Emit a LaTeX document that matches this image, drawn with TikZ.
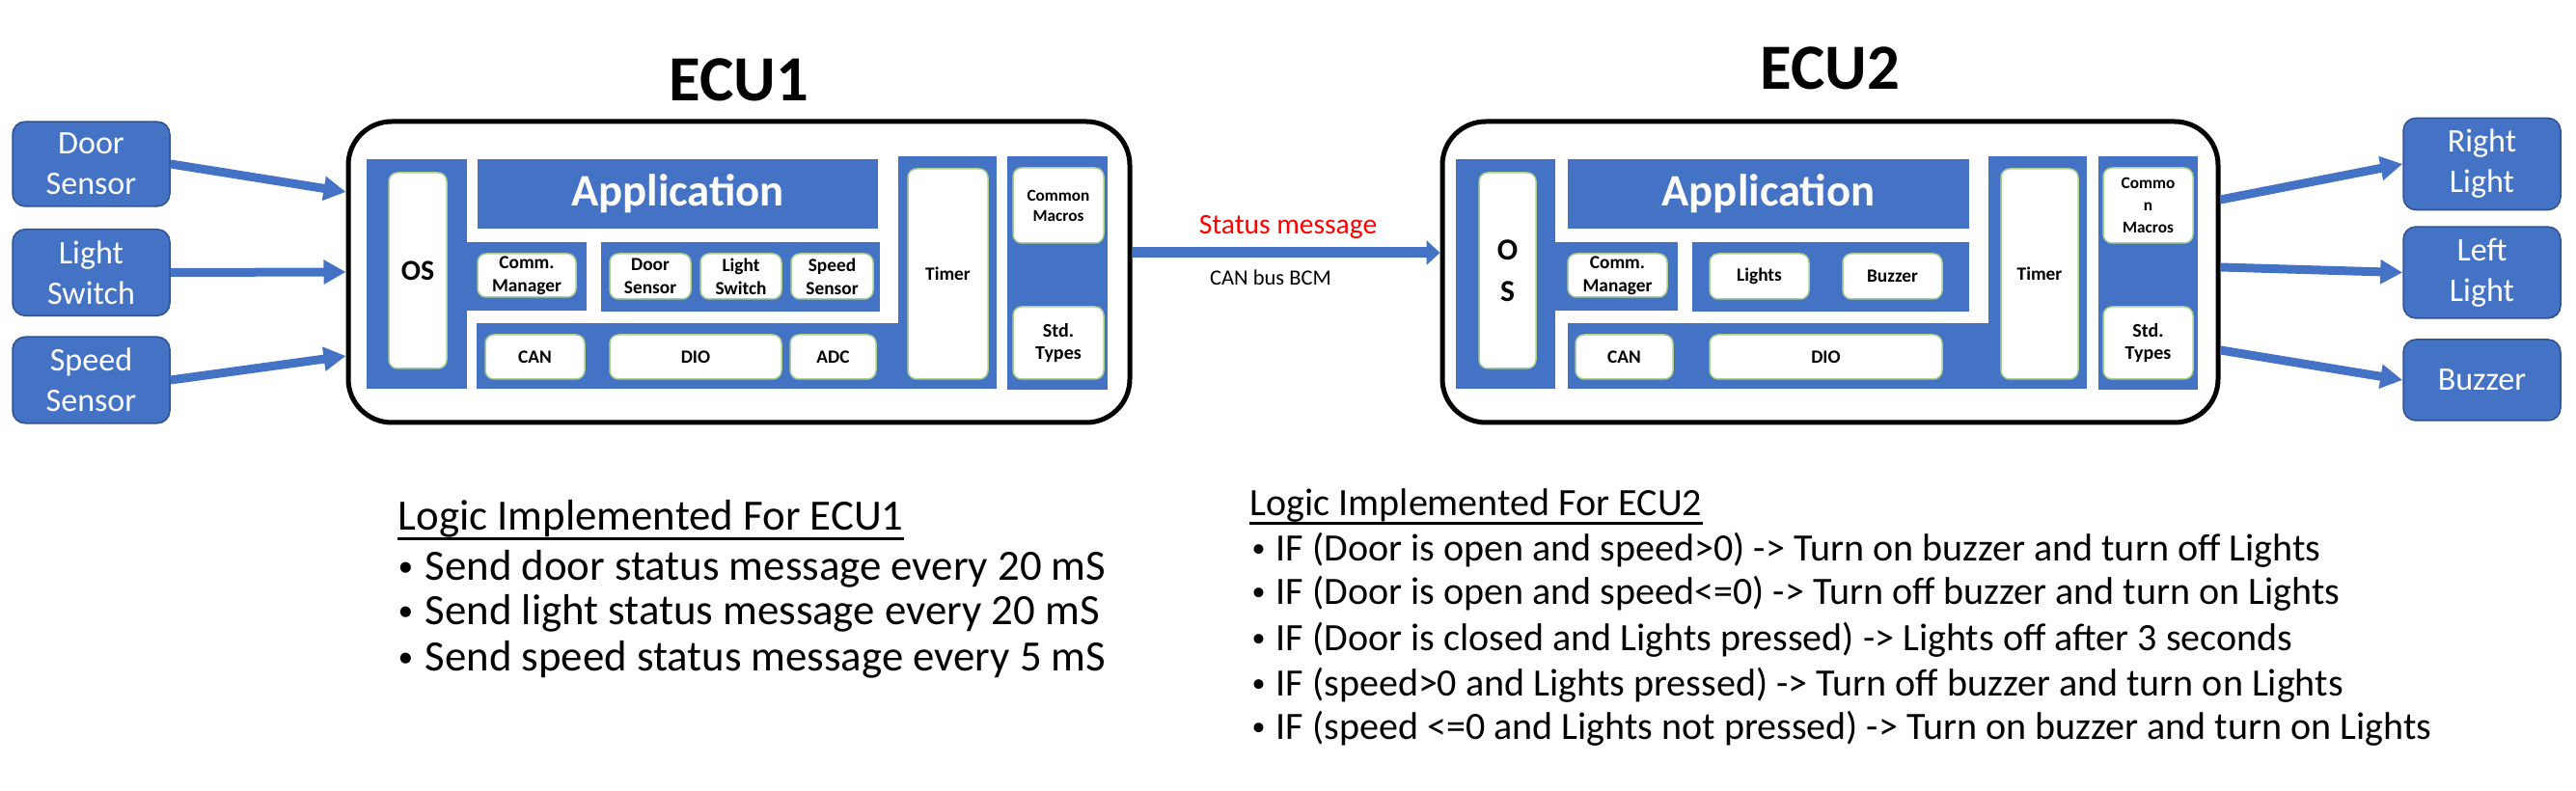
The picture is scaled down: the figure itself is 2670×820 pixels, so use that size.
\documentclass[tikz,border=0pt]{standalone}
\usepackage{fontspec}
\setmainfont{Carlito}
\usepackage{tikz}
\usetikzlibrary{arrows.meta, calc}
\definecolor{ecublue}{RGB}{68,114,196}
\definecolor{ecudark}{RGB}{47,82,143}
\definecolor{ecugreen}{RGB}{169,209,142}
\definecolor{msgred}{RGB}{255,0,0}
\newcommand{\fsz}[2]{\fontsize{#1}{#2}\selectfont}
\newcommand{\dotitem}[1]{\makebox[#1][l]{\raisebox{0.1em}{\scalebox{0.7}{•}}}}

\begin{document}
\begin{tikzpicture}[
    % GLOBAL CFG
    x=0.1mm, y=-0.1mm,
    % Styles
    ecu/.style={% For the ECU frame
        rectangle,
        rounded corners=4.5mm,
        draw,
        fill=white,
        line width=0.5mm,
        minimum height=31.2mm,
        },
    io/.style={% For sensors and actuators
        rectangle,
        rounded corners=1.3mm,
        draw=ecudark,
        fill=ecublue,
        line width=0.15mm,
        text=white,
        align=center,
        font=\fsz{9.7}{12},
        minimum width=16.3mm,
        minimum height=8.4mm,
        },
    layer/.style={% blue background of a layer
        fill=ecublue,
        },
    module/.style={% white software modules
        rectangle,
        rounded corners=0.9mm,
        draw=ecugreen,
        fill=white,
        line width=0.15mm,
        align=center,
        inner sep=0pt,
        font=\bfseries\fsz{5.5}{6.8},
        },
    app/.style={% For the application layer
        rectangle,
        fill=ecublue,
        text=white,
        inner sep=0pt,
        minimum height=7.2mm,
        font=\bfseries\fsz{13.3}{16},
        },
    title/.style={%
        font=\bfseries\fsz{19}{23},
        anchor=base,
        },
    logic/.style={% the lines of the logic lists
        anchor=base west,
        inner sep=0pt,
        },
    uline/.style={% underline of a list title
        line width=0.3mm,
        },
    sig/.style={% Arrows between sensors and ECUs
        draw=ecublue,
        line width=0.9mm,
        -{Triangle[length=2.3mm,width=2.4mm]},
        },
    bus/.style={% the CAN bus arrow
        draw=ecublue,
        line width=1.1mm,
        -{Triangle[length=1.4mm,width=2.5mm]},
        },
    ]
    \useasboundingbox (0,0) rectangle (2670,820);

    % Titles
    \node[title] (ttlA) at (766,105) {ECU1};
    \node[title] (ttlB) at (1897,93) {ECU2};

    % Sensors and actuators
    \node[io] (dsens) at (94.5,170) {Door\\Sensor};
    \node[io] (lsens) at (94.5,282.5) {Light\\Switch};
    \node[io] (ssens) at (94.5,394) {Speed\\Sensor};
    \node[io] (rlight) at (2572.5,170) {Right\\Light};
    \node[io] (llight) at (2572.5,282.5) {Left\\Light};
    \node[io] (buzz) at (2572.5,394) {Buzzer};

    % ECU1 frame and layers
    \node[ecu, minimum width=81mm] (ecuA) at (766,282) {};
    \fill[layer] (380,165) rectangle (484,403);
    \fill[layer] (484,251) rectangle (608,322);
    \fill[layer] (623,251) rectangle (912,323);
    \fill[layer] (494,335) rectangle (932,403);
    \fill[layer] (931,162) rectangle (1033,403);
    \fill[layer] (1044,162) rectangle (1148,404);
    \node[app, minimum width=41.5mm] (appA) at (702.5,201) {Application};
    \node[module, minimum width=6mm, minimum height=20.3mm, font=\bfseries\fsz{8.5}{10}] (osA) at (433,280.5) {OS};
    \node[module, minimum width=10.2mm, minimum height=4.5mm] (commA) at (546,285.5) {Comm.\\Manager};
    \node[module, minimum width=8.4mm, minimum height=4.7mm] (doorA) at (674,286.5) {Door\\Sensor};
    \node[module, minimum width=8.4mm, minimum height=4.7mm] (lightA) at (768,286.5) {Light\\Switch};
    \node[module, minimum width=8.5mm, minimum height=4.7mm] (speedA) at (862.5,286.5) {Speed\\Sensor};
    \node[module, minimum width=10.3mm, minimum height=4.6mm] (canA) at (554.5,370) {CAN};
    \node[module, minimum width=17.8mm, minimum height=4.6mm] (dioA) at (721,370) {DIO};
    \node[module, minimum width=8.9mm, minimum height=4.6mm] (adcA) at (863.5,370) {ADC};
    \node[module, minimum width=8.3mm, minimum height=21.8mm] (timerA) at (982.5,284) {Timer};
    \node[module, minimum width=9.4mm, minimum height=7.8mm, font=\bfseries\fsz{4.9}{6}] (macroA) at (1097,213) {Common\\Macros};
    \node[module, minimum width=9.4mm, minimum height=7.5mm, font=\bfseries\fsz{5.7}{6.5}] (typesA) at (1097,355.5) {Std.\\Types};

    % ECU2 frame and layers
    \node[ecu, minimum width=80.4mm] (ecuB) at (1897,282) {};
    \fill[layer] (1509,165) rectangle (1612,403);
    \fill[layer] (1612,251) rectangle (1739,322);
    \fill[layer] (1754,251) rectangle (2041,323);
    \fill[layer] (1625,335) rectangle (2061,403);
    \fill[layer] (2061,162) rectangle (2163,403);
    \fill[layer] (2175,162) rectangle (2278,404);
    \node[app, minimum width=41.6mm] (appB) at (1833,201) {Application};
    \node[module, minimum width=5.9mm, minimum height=20.3mm, font=\bfseries\fsz{9}{12.2}] (osB) at (1562.5,280.5) {O\\S};
    \node[module, minimum width=10.3mm, minimum height=4.5mm] (commB) at (1676.5,285.5) {Comm.\\Manager};
    \node[module, minimum width=10.3mm, minimum height=4.7mm] (lightsB) at (1823.5,286.5) {Lights};
    \node[module, minimum width=10.3mm, minimum height=4.7mm] (buzzB) at (1961.5,286.5) {Buzzer};
    \node[module, minimum width=10.1mm, minimum height=4.6mm] (canB) at (1683.5,370) {CAN};
    \node[module, minimum width=24.1mm, minimum height=4.6mm] (dioB) at (1892.5,370) {DIO};
    \node[module, minimum width=8mm, minimum height=21.8mm] (timerB) at (2114,284) {Timer};
    \node[module, minimum width=9.3mm, minimum height=7.8mm, font=\bfseries\fsz{4.9}{6.5}] (macroB) at (2226.5,213) {Commo\\n\\Macros};
    \node[module, minimum width=9.3mm, minimum height=7.5mm, font=\bfseries\fsz{5.7}{6.5}] (typesB) at (2226.5,355.5) {Std.\\Types};

    % Inputs
    \draw[sig] (dsens.east) -- ($(ecuA.west)+(0,-83)$);
    \draw[sig] (lsens.east) -- (ecuA.west);
    \draw[sig] (ssens.east) -- ($(ecuA.west)+(0,87)$);

    % Bus between the ECUs
    \draw[bus] ($(ecuA.east)+(0,-20)$) -- ($(ecuB.west)+(0,-20)$);
    \node[anchor=base, text=msgred, font=\fsz{8.4}{10}] (msg) at (1335,243) {Status message};
    \node[anchor=base, font=\fsz{6.4}{8}] (canbus) at (1317,296) {CAN bus BCM};

    % Outputs
    \draw[sig] ($(ecuB.east)+(0,-75)$) -- (rlight.west);
    \draw[sig] ($(ecuB.east)+(0,-5)$) -- (llight.west);
    \draw[sig] ($(ecuB.east)+(0,81)$) -- (buzz.west);

    % Logic of ECU1
    \node[logic, font=\fsz{12.75}{15}] (logA) at (412,550) {Logic Implemented For ECU1};
    \draw[uline] ($(logA.base west)+(0,9)$) -- ($(logA.base east)+(0,9)$);
    \node[logic, font=\fsz{12.75}{15}] (logA1) at (412,602) {\dotitem{2.8mm}Send door status message every 20 mS};
    \node[logic, font=\fsz{12.75}{15}] (logA2) at (412,648) {\dotitem{2.8mm}Send light status message every 20 mS};
    \node[logic, font=\fsz{12.75}{15}] (logA3) at (412,696) {\dotitem{2.8mm}Send speed status message every 5 mS};

    % Logic of ECU2
    \node[logic, font=\fsz{11.4}{13}] (logB) at (1295,535) {Logic Implemented For ECU2};
    \draw[uline] ($(logB.base west)+(0,8)$) -- ($(logB.base east)+(0,8)$);
    \node[logic, font=\fsz{11.4}{13}] (logB1) at (1297,582) {\dotitem{2.5mm}IF (Door is open and speed>0) -> Turn on buzzer and turn off Lights};
    \node[logic, font=\fsz{11.4}{13}] (logB2) at (1297,627) {\dotitem{2.5mm}IF (Door is open and speed<=0) -> Turn off buzzer and turn on Lights};
    \node[logic, font=\fsz{11.4}{13}] (logB3) at (1297,675) {\dotitem{2.5mm}IF (Door is closed and Lights pressed) -> Lights off after 3 seconds};
    \node[logic, font=\fsz{11.4}{13}] (logB4) at (1297,722) {\dotitem{2.5mm}IF (speed>0 and Lights pressed) -> Turn off buzzer and turn on Lights};
    \node[logic, font=\fsz{11.4}{13}] (logB5) at (1297,767) {\dotitem{2.5mm}IF (speed <=0 and Lights not pressed) -> Turn on buzzer and turn on Lights};
\end{tikzpicture}
\end{document}
